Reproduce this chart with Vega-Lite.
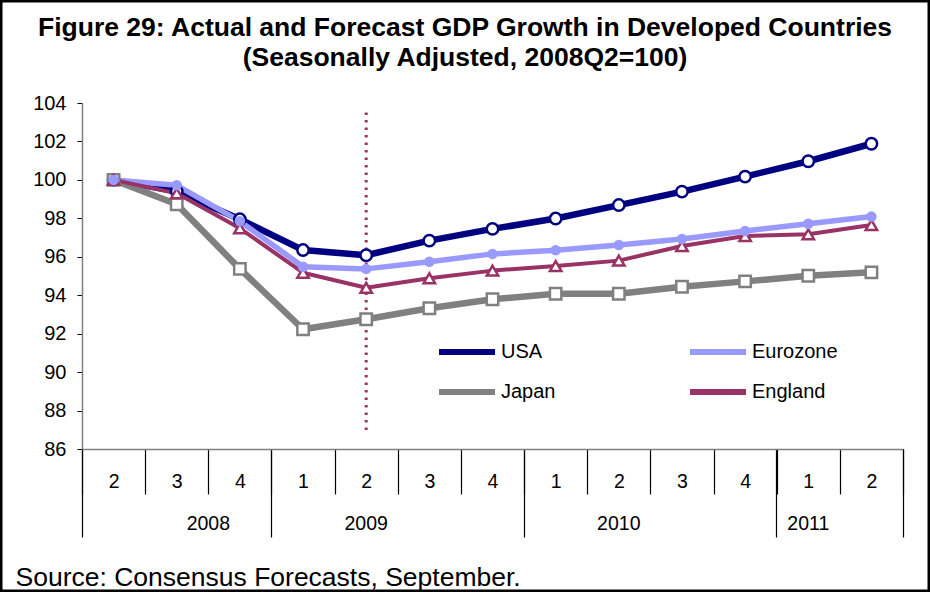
{
  "$schema": "https://vega.github.io/schema/vega-lite/v6.json",
  "width": 930,
  "height": 592,
  "autosize": {"type": "none"},
  "padding": 0,
  "background": "white",
  "config": {
    "view": {"stroke": "black", "strokeWidth": 5, "fill": "white"},
    "font": "Liberation Sans",
    "axis": {"grid": false, "labelFont": "Liberation Sans", "labelColor": "black", "titleFont": "Liberation Sans", "titleColor": "black"},
    "legend": {"labelFont": "Liberation Sans", "labelColor": "black"}
  },
  "title": {
    "text": ["Figure 29: Actual and Forecast GDP Growth in Developed Countries", "(Seasonally Adjusted, 2008Q2=100)"],
    "anchor": "middle",
    "frame": "group",
    "font": "Liberation Sans",
    "fontSize": 26.5,
    "fontWeight": "bold",
    "color": "black",
    "lineHeight": 30,
    "offset": -71
  },
  "data": {
    "values": [
      {"q": "2008-2", "country": "USA", "value": 100},
      {"q": "2008-3", "country": "USA", "value": 99.4},
      {"q": "2008-4", "country": "USA", "value": 97.95},
      {"q": "2009-1", "country": "USA", "value": 96.35},
      {"q": "2009-2", "country": "USA", "value": 96.08},
      {"q": "2009-3", "country": "USA", "value": 96.84},
      {"q": "2009-4", "country": "USA", "value": 97.45},
      {"q": "2010-1", "country": "USA", "value": 97.99},
      {"q": "2010-2", "country": "USA", "value": 98.69},
      {"q": "2010-3", "country": "USA", "value": 99.39},
      {"q": "2010-4", "country": "USA", "value": 100.17},
      {"q": "2011-1", "country": "USA", "value": 100.97},
      {"q": "2011-2", "country": "USA", "value": 101.88},
      {"q": "2008-2", "country": "Eurozone", "value": 100},
      {"q": "2008-3", "country": "Eurozone", "value": 99.72},
      {"q": "2008-4", "country": "Eurozone", "value": 97.85},
      {"q": "2009-1", "country": "Eurozone", "value": 95.48},
      {"q": "2009-2", "country": "Eurozone", "value": 95.37},
      {"q": "2009-3", "country": "Eurozone", "value": 95.74},
      {"q": "2009-4", "country": "Eurozone", "value": 96.15},
      {"q": "2010-1", "country": "Eurozone", "value": 96.34},
      {"q": "2010-2", "country": "Eurozone", "value": 96.61},
      {"q": "2010-3", "country": "Eurozone", "value": 96.93},
      {"q": "2010-4", "country": "Eurozone", "value": 97.34},
      {"q": "2011-1", "country": "Eurozone", "value": 97.72},
      {"q": "2011-2", "country": "Eurozone", "value": 98.09},
      {"q": "2008-2", "country": "Japan", "value": 100},
      {"q": "2008-3", "country": "Japan", "value": 98.73},
      {"q": "2008-4", "country": "Japan", "value": 95.37},
      {"q": "2009-1", "country": "Japan", "value": 92.23},
      {"q": "2009-2", "country": "Japan", "value": 92.75},
      {"q": "2009-3", "country": "Japan", "value": 93.32},
      {"q": "2009-4", "country": "Japan", "value": 93.79},
      {"q": "2010-1", "country": "Japan", "value": 94.08},
      {"q": "2010-2", "country": "Japan", "value": 94.08},
      {"q": "2010-3", "country": "Japan", "value": 94.44},
      {"q": "2010-4", "country": "Japan", "value": 94.72},
      {"q": "2011-1", "country": "Japan", "value": 95.01},
      {"q": "2011-2", "country": "Japan", "value": 95.19},
      {"q": "2008-2", "country": "England", "value": 100},
      {"q": "2008-3", "country": "England", "value": 99.3},
      {"q": "2008-4", "country": "England", "value": 97.48},
      {"q": "2009-1", "country": "England", "value": 95.17},
      {"q": "2009-2", "country": "England", "value": 94.39},
      {"q": "2009-3", "country": "England", "value": 94.88},
      {"q": "2009-4", "country": "England", "value": 95.28},
      {"q": "2010-1", "country": "England", "value": 95.52},
      {"q": "2010-2", "country": "England", "value": 95.8},
      {"q": "2010-3", "country": "England", "value": 96.56},
      {"q": "2010-4", "country": "England", "value": 97.08},
      {"q": "2011-1", "country": "England", "value": 97.17},
      {"q": "2011-2", "country": "England", "value": 97.65}
    ]
  },
  "resolve": {"axis": {"x": "independent"}},
  "layer": [
    {
      "data": {"values": [{"event": "forecast start", "q": "2009-2"}]},
      "mark": {"type": "rule", "color": "#993366", "strokeWidth": 3, "strokeDash": [2.5, 5]},
      "encoding": {
        "x": {
          "field": "q", "type": "ordinal",
          "axis": {
            "orient": "bottom", "offset": -143, "title": null,
            "values": ["2008-2", "2009-1", "2010-1", "2011-1"],
            "bandPosition": 0,
            "tickSize": 88, "tickColor": "black", "tickWidth": 1.2,
            "domain": false,
            "labelExpr": "datum.value === '2008-2' ? '2008' : ''",
            "labelOffset": 94.74, "labelPadding": -14, "labelBaseline": "middle",
            "labelFontSize": 19.5, "labelAngle": 0
          }
        },
        "y": {"datum": 103.5, "type": "quantitative"},
        "y2": {"datum": 86.8}
      }
    },
    {
      "mark": {"type": "line", "strokeJoin": "round"},
      "encoding": {
        "x": {
          "field": "q", "type": "ordinal",
          "scale": {"type": "band", "range": [82, 903], "paddingInner": 0, "paddingOuter": 0},
          "axis": {
            "orient": "bottom", "offset": -143, "title": null,
            "labelExpr": "split(datum.value, '-')[1]",
            "tickBand": "extent",
            "tickSize": 45,
            "labelPadding": -13,
            "tickColor": "black", "tickWidth": 1.2,
            "domainColor": "#808080", "domainWidth": 1.5,
            "labelFontSize": 19.5, "labelAngle": 0, "labelBaseline": "middle"
          }
        },
        "y": {
          "field": "value", "type": "quantitative",
          "scale": {"domain": [86, 104], "range": [449, 103], "nice": false, "zero": false},
          "axis": {
            "orient": "left", "offset": -82, "title": null,
            "values": [86, 88, 90, 92, 94, 96, 98, 100, 102, 104],
            "tickSize": 5, "tickColor": "black", "domainColor": "#808080", "domainWidth": 1.5,
            "labelFontSize": 20, "labelPadding": 11
          }
        },
        "color": {
          "field": "country", "type": "nominal",
          "sort": ["USA", "Eurozone", "Japan", "England"],
          "scale": {"range": ["#000080", "#9999FF", "#808080", "#993366"]},
          "legend": {
            "orient": "none", "legendX": 436, "legendY": 342, "title": null,
            "direction": "horizontal",
            "columns": 2, "columnPadding": 131, "rowPadding": 20, "clipHeight": 20,
            "symbolType": "stroke", "symbolSize": 3136, "symbolStrokeWidth": 6,
            "labelFontSize": 20, "labelOffset": 3, "padding": 0
          }
        },
        "strokeWidth": {
          "field": "country", "type": "nominal",
          "scale": {"type": "ordinal", "domain": ["USA", "Eurozone", "Japan", "England"], "range": [6.5, 5.5, 6.5, 4]},
          "legend": null
        }
      }
    },
    {
      "transform": [{"filter": "datum.country !== 'Eurozone'"}],
      "mark": {"type": "point", "filled": false, "fill": "white", "opacity": 1, "size": 130, "strokeWidth": 2.5},
      "encoding": {
        "x": {
          "field": "q", "type": "ordinal",
          "axis": {
            "orient": "bottom", "offset": -143,
            "values": ["2009-2", "2010-2", "2011-1"],
            "bandPosition": 1,
            "ticks": false, "domain": false,
            "labelExpr": "substring(datum.value, 0, 4)",
            "labelPadding": 74, "labelBaseline": "middle", "labelFontSize": 19.5, "labelAngle": 0,
            "title": "Source: Consensus Forecasts, September.",
            "titleX": 15, "titleY": 128, "titleAlign": "left", "titleBaseline": "middle",
            "titleFontSize": 26.5, "titleFontWeight": "normal"
          }
        },
        "y": {"field": "value", "type": "quantitative"},
        "shape": {
          "field": "country", "type": "nominal",
          "scale": {"domain": ["USA", "Eurozone", "Japan", "England"], "range": ["circle", "circle", "square", "triangle-up"]},
          "legend": {
            "orient": "none", "legendX": 436, "legendY": 342, "title": null,
            "direction": "horizontal",
            "columns": 2, "columnPadding": 131, "rowPadding": 20, "clipHeight": 20,
            "symbolSize": 3136, "symbolStrokeWidth": 2.5, "symbolFillColor": "white", "symbolOpacity": 1,
            "labelFontSize": 20, "labelOffset": 3, "padding": 0, "labelOpacity": 0,
            "encode": {"symbols": {"update": {"size": {"value": 130}}}}
          }
        },
        "stroke": {
          "field": "country", "type": "nominal",
          "scale": {"domain": ["USA", "Eurozone", "Japan", "England"], "range": ["#000080", "#9999FF", "#808080", "#993366"]},
          "legend": {
            "orient": "none", "legendX": 436, "legendY": 342, "title": null,
            "direction": "horizontal",
            "columns": 2, "columnPadding": 131, "rowPadding": 20, "clipHeight": 20,
            "symbolSize": 3136, "symbolStrokeWidth": 2.5, "symbolFillColor": "white", "symbolOpacity": 1,
            "labelFontSize": 20, "labelOffset": 3, "padding": 0, "labelOpacity": 0,
            "encode": {"symbols": {"update": {"size": {"value": 130}}}}
          }
        }
      }
    },
    {
      "transform": [{"filter": "datum.country === 'Eurozone'"}],
      "mark": {"type": "point", "filled": true, "color": "#9999FF", "opacity": 1, "size": 110},
      "encoding": {
        "x": {
          "field": "q", "type": "ordinal",
          "axis": {
            "orient": "bottom", "offset": -143, "title": null,
            "values": ["2011-2"],
            "bandPosition": 1,
            "tickSize": 88, "tickColor": "black", "tickWidth": 1.2,
            "domain": false, "labels": false
          }
        },
        "y": {"field": "value", "type": "quantitative"}
      }
    }
  ]
}
